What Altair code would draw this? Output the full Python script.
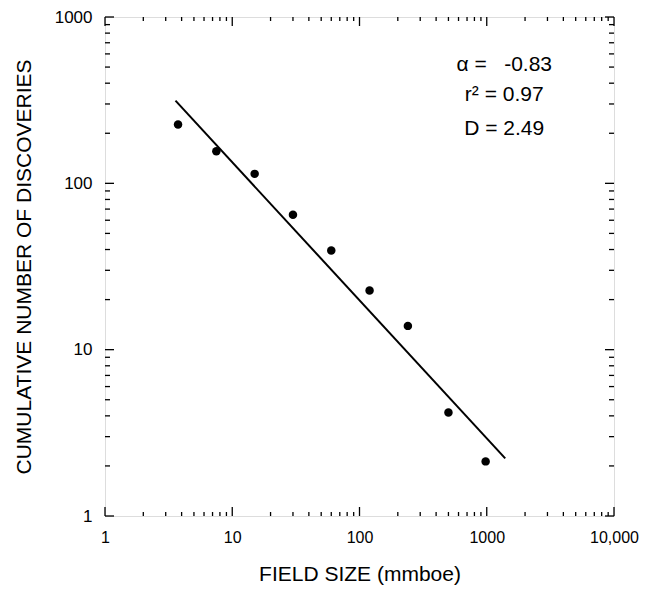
import altair as alt
import pandas as pd

# Data
field_size = [3.75, 7.5, 15, 30, 60, 120, 240, 500, 980]
discoveries = [226, 156, 114, 64.7, 39.4, 22.7, 13.9, 4.19, 2.13]

fit_x = [3.58, 1397]
fit_y = [314, 2.22]

x_major = [1, 10, 100, 1000, 10000]
y_major = [1, 10, 100, 1000]
x_minor = [d * 10 ** k for k in range(4) for d in range(2, 10)]
y_minor = [d * 10 ** k for k in range(3) for d in range(2, 10)]

NB = "\u00a0"
ann_text = ["\u03b1 =" + NB * 3 + "-0.83", "r\u00b2 = 0.97", "D = 2.49"]
ann_x = [1372, 1372, 1372]
ann_y = [517, 338, 211]

W, H = 509, 499
FONT = "Liberation Sans"

xs = alt.Scale(type="log", domain=[1, 10000], nice=False)
ys = alt.Scale(type="log", domain=[1, 1000], nice=False)

pts = pd.DataFrame({"x": field_size, "y": discoveries})
fit = pd.DataFrame({"x": fit_x, "y": fit_y})
ann = pd.DataFrame({"t": ann_text, "x": ann_x, "y": ann_y})

xaxis = alt.Axis(
    values=x_major, title="FIELD SIZE (mmboe)", ticks=False, domain=False, grid=False,
    labelExpr="datum.value == 10000 ? '10,000' : format(datum.value, 'd')",
    labelFontSize=16, labelFont=FONT, labelColor="black", labelPadding=13,
    titleFontSize=21, titleFont=FONT, titleFontWeight="normal", titleColor="black",
    titlePadding=18, labelFlush=False,
)
yaxis = alt.Axis(
    values=y_major, title="CUMULATIVE NUMBER OF DISCOVERIES", ticks=False, domain=False,
    grid=False, format="d",
    labelFontSize=17, labelFont=FONT, labelColor="black", labelPadding=13,
    titleFontSize=21, titleFont=FONT, titleFontWeight="normal", titleColor="black",
    titlePadding=20, labelFlush=False,
)

base_pts = alt.Chart(pts).mark_circle(size=72, color="black", opacity=1).encode(
    x=alt.X("x:Q", scale=xs, axis=xaxis),
    y=alt.Y("y:Q", scale=ys, axis=yaxis),
)

line = alt.Chart(fit).mark_line(color="black", strokeWidth=2).encode(
    x=alt.X("x:Q", scale=xs), y=alt.Y("y:Q", scale=ys)
)

texts = alt.Chart(ann).mark_text(font=FONT, fontSize=21, color="black", align="center",
                                 baseline="middle").encode(
    x=alt.X("x:Q", scale=xs), y=alt.Y("y:Q", scale=ys), text="t:N"
)

xmaj = pd.DataFrame({"v": x_major})
xmin = pd.DataFrame({"v": x_minor})
ymaj = pd.DataFrame({"v": y_major})
ymin = pd.DataFrame({"v": y_minor})

def xticks(df, L):
    bottom = alt.Chart(df).mark_rule(color="black", strokeWidth=1.3).encode(
        x=alt.X("v:Q", scale=xs), y=alt.value(H), y2=alt.value(H - L))
    top = alt.Chart(df).mark_rule(color="black", strokeWidth=1.3).encode(
        x=alt.X("v:Q", scale=xs), y=alt.value(0), y2=alt.value(L))
    return bottom + top

def yticks(df, L):
    left = alt.Chart(df).mark_rule(color="black", strokeWidth=1.3).encode(
        y=alt.Y("v:Q", scale=ys), x=alt.value(0), x2=alt.value(L))
    right = alt.Chart(df).mark_rule(color="black", strokeWidth=1.3).encode(
        y=alt.Y("v:Q", scale=ys), x=alt.value(W), x2=alt.value(W - L))
    return left + right

chart = alt.layer(
    base_pts, line, texts,
    xticks(xmaj, 9), xticks(xmin, 4), yticks(ymaj, 9), yticks(ymin, 5),
).properties(
    width=W, height=H, autosize="none",
    padding={"left": 97, "top": 9, "right": 26, "bottom": 70},
).configure_view(stroke="black", strokeWidth=1.5).configure(background="white")

chart.save("out.html", embed_options={"renderer": "svg", "actions": False})
